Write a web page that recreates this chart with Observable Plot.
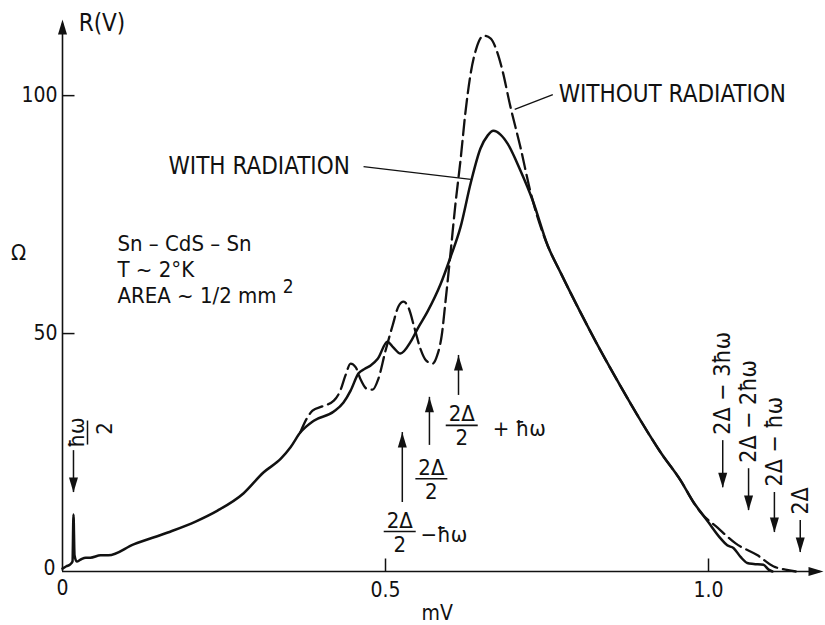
<!DOCTYPE html>
<html>
<head>
<meta charset="utf-8">
<script src="https://cdn.jsdelivr.net/npm/d3@7"></script>
<script src="https://cdn.jsdelivr.net/npm/@observablehq/plot@0.6"></script>
<style>
  html, body { margin: 0; padding: 0; background: #fff; }
  #chart svg { display: block; }
</style>
</head>
<body>
<div id="chart"></div>
<script>
// Differential resistance R(V) of a Sn–CdS–Sn tunnel junction versus bias (mV),
// measured with and without microwave radiation.

// With radiation (solid trace)
const withRadV = [0, 0.006, 0.012, 0.0155, 0.017, 0.0186, 0.022, 0.028, 0.036, 0.043,
  0.059, 0.071, 0.110, 0.163, 0.206, 0.240, 0.280, 0.311, 0.338, 0.353,
  0.368, 0.389, 0.420, 0.435, 0.446, 0.458, 0.468, 0.477, 0.488, 0.503,
  0.512, 0.523, 0.539, 0.550, 0.565, 0.585, 0.601, 0.616, 0.632, 0.647,
  0.658, 0.667, 0.678, 0.689, 0.709, 0.728, 0.751, 0.771, 0.802, 0.833,
  0.864, 0.895, 0.926, 0.957, 0.977, 0.988, 0.999, 1.019, 1.029, 1.039,
  1.050, 1.060, 1.070, 1.085, 1.093, 1.099];
const withRadR = [0.6, 1.1, 1.5, 2.1, 12.0, 3.4, 2.1, 2.5, 2.9, 2.9,
  3.4, 3.4, 5.7, 8.2, 10.5, 12.8, 16.4, 20.8, 23.7, 26.1,
  29.2, 31.7, 33.6, 35.5, 38.0, 41.6, 42.6, 43.3, 44.7, 48.3,
  47.1, 45.8, 48.3, 51.1, 54.6, 60.3, 66.2, 72.3, 81.7, 88.9,
  91.6, 92.6, 91.8, 89.9, 84.2, 77.9, 68.5, 62.8, 54.4, 46.4,
  38.9, 31.7, 25.0, 19.1, 14.5, 12.5, 10.5, 6.9, 5.5, 4.9,
  3.0, 1.8, 1.6, 1.4, 0.4, 0];

// Without radiation (dashed trace)
const withoutRadV = [0.368, 0.378, 0.387, 0.402, 0.420, 0.430, 0.438, 0.446, 0.454, 0.461,
  0.471, 0.480, 0.489, 0.500, 0.511, 0.520, 0.528, 0.536, 0.545, 0.554,
  0.563, 0.573, 0.580, 0.587, 0.593, 0.601, 0.608, 0.616, 0.624, 0.632,
  0.641, 0.652, 0.663, 0.672, 0.681, 0.693, 0.709, 0.724, 0.735, 0.751,
  0.771, 0.802, 0.833, 0.864, 0.895, 0.926, 0.957, 0.977, 0.988, 1.014,
  1.042, 1.076, 1.101, 1.119, 1.135];
const withoutRadR = [29.2, 32.1, 33.8, 34.7, 35.9, 38.0, 41.2, 43.7, 42.9, 40.5,
  38.4, 38.2, 40.5, 46.4, 51.7, 55.7, 56.7, 55.3, 51.1, 46.8,
  44.3, 43.7, 45.4, 49.6, 56.9, 67.4, 76.9, 86.3, 96.8, 104.8,
  110.1, 112.6, 112.0, 109.5, 105.3, 97.9, 89.1, 80.0, 74.6, 68.5,
  62.8, 54.4, 46.4, 38.9, 31.7, 25.0, 19.1, 14.5, 12.4, 9.2,
  5.9, 3.4, 1.05, 0.4, 0];

// Axis ticks
const xTicks = [0.5, 1.0];
const xTickLabels = ["0.5", "1.0"];
const yTicks = [50, 100];
const yTickLabels = ["50", "100"];
const xMax = 1.178;
const yMax = 116;

// Energy markers (mV, arrow from / to in Ω)
const subharmonic = [{v: 0.017, from: 25.4, to: 16.6}];
const subharmonicLabel = [{v: 0.0387, r: 29.2}];
const halfGapArrows = [
  {v: 0.526, from: 14.5, to: 29.2},
  {v: 0.568, from: 26.5, to: 36.6},
  {v: 0.613, from: 37.0, to: 45.4}
];
const halfGapLabels = [
  {v: 0.522, r: 8.4},
  {v: 0.571, r: 19.5},
  {v: 0.618, r: 30.7}
];
const halfGapSuffix = [
  {v: 0.554, r: 7.6, text: "−ħω"},
  {v: 0.666, r: 30.0, text: "+ ħω"}
];
const gapArrows = [
  {v: 1.022, from: 27.5, to: 17.6, text: "2Δ − 3ħω"},
  {v: 1.062, from: 21.6, to: 12.8, text: "2Δ − 2ħω"},
  {v: 1.102, from: 16.6, to: 8.2, text: "2Δ − ħω"},
  {v: 1.142, from: 10.7, to: 4.0, text: "2Δ"}
];

// Curve labels with leader lines
const curveLabels = [
  {v: 0.164, r: 85.1, text: "WITH RADIATION"},
  {v: 0.768, r: 100.2, text: "WITHOUT RADIATION"}
];
const leaders = [
  {v1: 0.466, r1: 85.1, v2: 0.632, r2: 82.4},
  {v1: 0.759, r1: 100.2, v2: 0.700, r2: 97.1}
];
const sampleInfo = "Sn – CdS – Sn\nT ~ 2°K\nAREA ~ 1/2 mm";
const sampleInfoPos = [{v: 0.085, r: 63.7}];
const sampleExponent = [{v: 0.341, r: 59.9}];

const withRad = withRadV.map((v, i) => ({v, r: withRadR[i]}));
const withoutRad = withoutRadV.map((v, i) => ({v, r: withoutRadR[i]}));

// Small path shapes used as dot symbols (tip / anchor at the origin)
const headUp = {draw(c) { c.moveTo(0, 0); c.lineTo(4.5, 15); c.lineTo(-4.5, 15); c.closePath(); }};
const headDown = {draw(c) { c.moveTo(0, 0); c.lineTo(4.5, -15); c.lineTo(-4.5, -15); c.closePath(); }};
const headRight = {draw(c) { c.moveTo(0, 0); c.lineTo(-15, 4.5); c.lineTo(-15, -4.5); c.closePath(); }};
const tickUp = {draw(c) { c.moveTo(0, 0); c.lineTo(0, -13); }};
const tickRight = {draw(c) { c.moveTo(0, 0); c.lineTo(12, 0); }};
const barH = {draw(c) { c.moveTo(-16, 0); c.lineTo(16, 0); }};
const barV = {draw(c) { c.moveTo(0, -12); c.lineTo(0, 12); }};

const font = "'Liberation Sans Narrow', 'DejaVu Sans Condensed', 'Liberation Sans', sans-serif";
const ink = "#111";

const chart = Plot.plot({
  width: 825,
  height: 625,
  marginLeft: 62,
  marginRight: 2,
  marginTop: 19,
  marginBottom: 54,
  x: {domain: [0, xMax], axis: null},
  y: {domain: [0, yMax], axis: null},
  style: {fontFamily: font, background: "white", color: ink, overflow: "visible"},
  marks: [
    // axes with arrowheads
    Plot.ruleX([{v: 0, r1: 0, r2: yMax - 1}], {x: "v", y1: "r1", y2: "r2", stroke: ink, strokeWidth: 1.6}),
    Plot.ruleY([{r: 0, v1: 0, v2: xMax - 0.005}], {y: "r", x1: "v1", x2: "v2", stroke: ink, strokeWidth: 1.6}),
    Plot.dot([{v: 0, r: yMax}], {x: "v", y: "r", symbol: headUp, fill: ink, stroke: "none"}),
    Plot.dot([{v: xMax, r: 0}], {x: "v", y: "r", symbol: headRight, fill: ink, stroke: "none"}),
    Plot.dot(xTicks, {x: (d) => d, y: () => 0, symbol: tickUp, fill: "none", stroke: ink, strokeWidth: 1.5}),
    Plot.dot(yTicks, {x: () => 0, y: (d) => d, symbol: tickRight, fill: "none", stroke: ink, strokeWidth: 1.5}),
    Plot.text(xTicks, {x: (d) => d, y: () => 0, text: (d, i) => xTickLabels[i], dy: 19, fontSize: 21}),
    Plot.text(yTicks, {x: () => 0, y: (d) => d, text: (d, i) => yTickLabels[i], textAnchor: "end", dx: -5, fontSize: 21}),
    Plot.text(["0"], {x: () => 0, y: () => 0, text: (d) => d, textAnchor: "end", dx: -7, dy: -3, fontSize: 21}),
    Plot.text(["0"], {x: () => 0, y: () => 0, text: (d) => d, dy: 17, fontSize: 21}),
    Plot.text(["R(V)"], {x: () => 0.025, y: () => 115.3, text: (d) => d, textAnchor: "start", fontSize: 24}),
    Plot.text(["Ω"], {x: () => -0.068, y: () => 67.0, text: (d) => d, fontSize: 22}),
    Plot.text(["mV"], {x: () => 0.58, y: () => -8.8, text: (d) => d, fontSize: 21}),

    // traces
    Plot.line(withRad, {x: "v", y: "r", curve: "monotone-x", stroke: ink, strokeWidth: 2.5}),
    Plot.line(withoutRad, {x: "v", y: "r", curve: "monotone-x", stroke: ink, strokeWidth: 2.3, strokeDasharray: "15,6"}),

    // curve labels
    Plot.text(curveLabels, {x: "v", y: "r", text: "text", textAnchor: "start", fontSize: 24, letterSpacing: 1.7}),
    Plot.link(leaders, {x1: "v1", y1: "r1", x2: "v2", y2: "r2", stroke: ink, strokeWidth: 1.3}),
    Plot.text(sampleInfoPos, {x: "v", y: "r", text: () => sampleInfo, textAnchor: "start", fontSize: 22, lineHeight: 1.18, letterSpacing: 0.6}),
    Plot.text(sampleExponent, {x: "v", y: "r", text: () => "2", textAnchor: "start", fontSize: 19}),

    // ħω/2 marker
    Plot.ruleX(subharmonic, {x: "v", y1: "from", y2: "to", stroke: ink, strokeWidth: 1.5}),
    Plot.dot(subharmonic, {x: "v", y: "to", symbol: headDown, fill: ink, stroke: "none"}),
    Plot.text(subharmonicLabel, {x: "v", y: "r", text: () => "ħω", rotate: -90, dx: -11, fontSize: 22}),
    Plot.dot(subharmonicLabel, {x: "v", y: "r", symbol: barV, fill: "none", stroke: ink, strokeWidth: 1.5}),
    Plot.text(subharmonicLabel, {x: "v", y: "r", text: () => "2", rotate: -90, dx: 17, dy: -4, fontSize: 22}),

    // 2Δ/2 and 2Δ/2 ± ħω markers
    Plot.ruleX(halfGapArrows, {x: "v", y1: "from", y2: "to", stroke: ink, strokeWidth: 1.5}),
    Plot.dot(halfGapArrows, {x: "v", y: "to", symbol: headUp, fill: ink, stroke: "none"}),
    Plot.text(halfGapLabels, {x: "v", y: "r", text: () => "2Δ", dy: -11, fontSize: 22}),
    Plot.dot(halfGapLabels, {x: "v", y: "r", symbol: barH, fill: "none", stroke: ink, strokeWidth: 1.6}),
    Plot.text(halfGapLabels, {x: "v", y: "r", text: () => "2", dy: 13, fontSize: 22}),
    Plot.text(halfGapSuffix, {x: "v", y: "r", text: "text", textAnchor: "start", fontSize: 22}),

    // 2Δ − nħω markers
    Plot.ruleX(gapArrows, {x: "v", y1: "from", y2: "to", stroke: ink, strokeWidth: 1.5}),
    Plot.dot(gapArrows, {x: "v", y: "to", symbol: headDown, fill: ink, stroke: "none"}),
    Plot.text(gapArrows, {x: "v", y: "from", text: "text", rotate: -90, textAnchor: "start", dy: -6, fontSize: 23})
  ]
});

document.getElementById("chart").appendChild(chart);
</script>
</body>
</html>
